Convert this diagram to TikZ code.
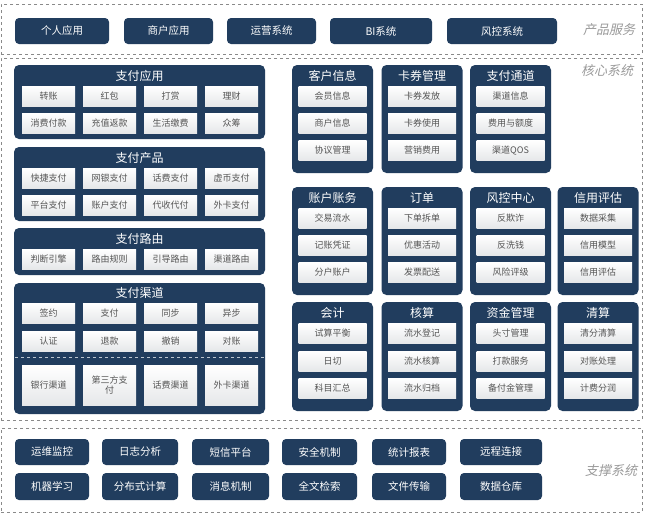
\documentclass[tikz,border=0pt]{standalone}
\usepackage{fontspec}
\setmainfont{Noto Sans CJK SC}
\newfontfamily\cjkslant[FakeSlant=0.22]{Noto Sans CJK SC}
\definecolor{navy}{HTML}{213D5E}
\definecolor{cellfill}{HTML}{F1F3F5}
\definecolor{celltext}{HTML}{555555}
\definecolor{lblgray}{HTML}{9A9A9A}
\definecolor{dashgray}{HTML}{8A8A8A}
\begin{document}
\begin{tikzpicture}[x=1pt,y=-1pt,
 outer/.style={draw=dashgray, dashed, line width=0.6pt, fill=white, inner sep=0pt},
 panel/.style={fill=navy, rounded corners=5pt, draw=none, inner sep=0pt},
 ptitle/.style={text=white, font=\fontsize{12}{13}\selectfont, inner sep=0pt},
 cell/.style={top color=white, bottom color=cellfill!90!gray, draw=none, text=celltext, font=\fontsize{9}{10.5}\selectfont, inner sep=0pt, align=center},
 btn/.style={fill=navy, rounded corners=4pt, text=white, font=\fontsize{10.5}{12}\selectfont, inner sep=0pt},
 lbl/.style={text=lblgray, font=\cjkslant\fontsize{13}{15}\selectfont, inner sep=0pt}]
\useasboundingbox (0,0) rectangle (647,517);
\fill[white] (0,0) rectangle (647,517);

% outer dashed frames
\node[outer, minimum width=641, minimum height=50] (prod) at (321.5,29) {};
\node[outer, minimum width=641, minimum height=362] (core) at (321.5,239) {};
\node[outer, minimum width=641, minimum height=84] (supp) at (321.5,470) {};

% section labels
\node[lbl] (prodl) at (609,30) {产品服务};
\node[lbl] (corel) at (607,71) {核心系统};
\node[lbl] (suppl) at (611,471) {支撑系统};

% product buttons
\foreach \nm/\cx/\w/\t in {p1/62/94/个人应用, p2/168.5/89/商户应用, p3/271.5/89/运营系统, p4/381/102/BI系统, p5/502/110/风控系统}{
  \node[btn, minimum width=\w, minimum height=26] (\nm) at (\cx,31) {\t};
}

% support buttons
\foreach \nm/\cx/\w/\t in {s1/52/74/运维监控, s2/140/76/日志分析, s3/230.5/77/短信平台, s4/319.5/75/安全机制, s5/409/74/统计报表, s6/501/82/远程连接}{
  \node[btn, minimum width=\w, minimum height=26] (\nm) at (\cx,452) {\t};
}
\foreach \nm/\cx/\w/\t in {s7/52/74/机器学习, s8/140/76/分布式计算, s9/230.5/77/消息机制, s10/319.5/75/全文检索, s11/409/74/文件传输, s12/501/82/数据仓库}{
  \node[btn, minimum width=\w, minimum height=27] (\nm) at (\cx,486.5) {\t};
}

% ---------- left panels ----------
% 支付应用
\node[panel, minimum width=251, minimum height=74] (app) at (139.5,102) {};
\node[ptitle] (app-t) at (139.5,76) {支付应用};
\foreach \t [count=\i] in {转账,红包,打赏,理财}{
  \pgfmathsetmacro\cx{48.5+61*(\i-1)}
  \node[cell, minimum width=53, minimum height=20] (app-a\i) at (\cx,96) {\t};
}
\foreach \t [count=\i] in {消费付款,充值返款,生活缴费,众筹}{
  \pgfmathsetmacro\cx{48.5+61*(\i-1)}
  \node[cell, minimum width=53, minimum height=20] (app-b\i) at (\cx,123) {\t};
}

% 支付产品
\node[panel, minimum width=251, minimum height=74] (prd) at (139.5,184) {};
\node[ptitle] (prd-t) at (139.5,158) {支付产品};
\foreach \t [count=\i] in {快捷支付,网银支付,话费支付,虚币支付}{
  \pgfmathsetmacro\cx{48.5+61*(\i-1)}
  \node[cell, minimum width=53, minimum height=20] (prd-a\i) at (\cx,178) {\t};
}
\foreach \t [count=\i] in {平台支付,账户支付,代收代付,外卡支付}{
  \pgfmathsetmacro\cx{48.5+61*(\i-1)}
  \node[cell, minimum width=53, minimum height=20] (prd-b\i) at (\cx,205) {\t};
}

% 支付路由
\node[panel, minimum width=251, minimum height=47] (rte) at (139.5,251.5) {};
\node[ptitle] (rte-t) at (139.5,239) {支付路由};
\foreach \t [count=\i] in {判断引擎,路由规则,引导路由,渠道路由}{
  \pgfmathsetmacro\cx{48.5+61*(\i-1)}
  \node[cell, minimum width=53, minimum height=20] (rte-a\i) at (\cx,259) {\t};
}

% 支付渠道
\node[panel, minimum width=251, minimum height=131] (chn) at (139.5,348.5) {};
\node[ptitle] (chn-t) at (139.5,293) {支付渠道};
\foreach \t [count=\i] in {签约,支付,同步,异步}{
  \pgfmathsetmacro\cx{48.5+61*(\i-1)}
  \node[cell, minimum width=53, minimum height=20] (chn-a\i) at (\cx,313) {\t};
}
\foreach \t [count=\i] in {认证,退款,撤销,对账}{
  \pgfmathsetmacro\cx{48.5+61*(\i-1)}
  \node[cell, minimum width=53, minimum height=20] (chn-b\i) at (\cx,341) {\t};
}
\coordinate (chdl) at (15,357);
\coordinate (chdr) at (264,357);
\draw[dashed, draw=white!70!navy, line width=0.8pt] (chdl) -- (chdr);
\foreach \t [count=\i] in {银行渠道,第三方支\\付,话费渠道,外卡渠道}{
  \pgfmathsetmacro\cx{48.5+61*(\i-1)}
  \node[cell, minimum width=53, minimum height=40] (chn-c\i) at (\cx,385) {\t};
}

% ---------- right panels ----------
\foreach \nm/\cx/\ti/\a/\b/\c in {cust/332.5/客户信息/会员信息/商户信息/协议管理,
  card/422/卡券管理/卡券发放/卡券使用/营销费用,
  pch/510.5/支付通道/渠道信息/费用与额度/渠道QOS}{
  \node[panel, minimum width=81, minimum height=108] (\nm) at (\cx,119) {};
  \node[ptitle] (\nm-t) at (\cx,76) {\ti};
  \node[cell, minimum width=68, minimum height=20] (\nm-1) at (\cx,96) {\a};
  \node[cell, minimum width=68, minimum height=20] (\nm-2) at (\cx,123) {\b};
  \node[cell, minimum width=68, minimum height=20] (\nm-3) at (\cx,150.5) {\c};
}
\foreach \nm/\cx/\ti/\a/\b/\c in {acct/332.5/账户账务/交易流水/记账凭证/分户账户,
  ord/422/订单/下单拆单/优惠活动/发票配送,
  risk/510.5/风控中心/反欺诈/反洗钱/风险评级,
  cred/598/信用评估/数据采集/信用模型/信用评估}{
  \node[panel, minimum width=81, minimum height=108] (\nm) at (\cx,241) {};
  \node[ptitle] (\nm-t) at (\cx,198) {\ti};
  \node[cell, minimum width=68, minimum height=20] (\nm-1) at (\cx,218) {\a};
  \node[cell, minimum width=68, minimum height=20] (\nm-2) at (\cx,245) {\b};
  \node[cell, minimum width=68, minimum height=20] (\nm-3) at (\cx,272) {\c};
}
\foreach \nm/\cx/\ti/\a/\b/\c in {acc/332.5/会计/试算平衡/日切/科目汇总,
  chk/422/核算/流水登记/流水核算/流水归档,
  fund/510.5/资金管理/头寸管理/打款服务/备付金管理,
  clr/598/清算/清分清算/对账处理/计费分润}{
  \node[panel, minimum width=81, minimum height=109] (\nm) at (\cx,356.5) {};
  \node[ptitle] (\nm-t) at (\cx,313) {\ti};
  \node[cell, minimum width=68, minimum height=20] (\nm-1) at (\cx,333.5) {\a};
  \node[cell, minimum width=68, minimum height=20] (\nm-2) at (\cx,361) {\b};
  \node[cell, minimum width=68, minimum height=20] (\nm-3) at (\cx,388) {\c};
}
\end{tikzpicture}
\end{document}
